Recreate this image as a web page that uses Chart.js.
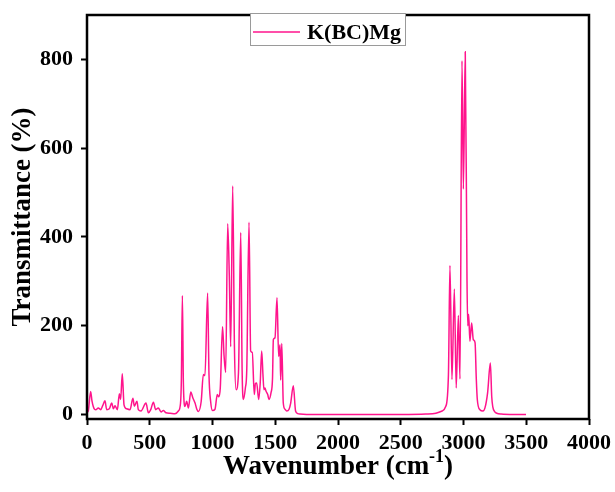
<!DOCTYPE html>
<html>
<head>
<meta charset="utf-8">
<script src="https://cdn.jsdelivr.net/npm/chart.js@4.4.1/dist/chart.umd.min.js"></script>
<style>
  html, body { margin: 0; padding: 0; background: #fff; }
  #wrap { width: 615px; height: 492px; position: relative; }
</style>
</head>
<body>
<div id="wrap"><canvas id="ftir"></canvas></div>
<script>
// FTIR spectrum of K(BC)Mg
const seriesLabel = 'K(BC)Mg';
const wavenumber = [
  0, 10, 29, 40, 50, 60, 72, 90, 109, 125, 143, 157, 178, 197, 210, 223, 242,
  258, 268, 281, 295, 316, 343, 366, 377, 398, 409, 430, 470, 489, 508, 529,
  547, 568, 590, 608, 630, 662, 701, 728, 745, 752, 760, 768, 781, 794, 808,
  827, 843, 861, 875, 888, 910, 927, 940, 961, 972, 985, 1000, 1020, 1038,
  1050, 1062, 1080, 1092, 1105, 1121, 1134, 1145, 1161, 1175, 1188, 1207,
  1225, 1236, 1246, 1262, 1273, 1291, 1304, 1317, 1333, 1342, 1352, 1368,
  1380, 1392, 1402, 1410, 1418, 1426, 1440, 1450, 1466, 1478, 1485, 1498,
  1514, 1527, 1538, 1543, 1552, 1564, 1578, 1591, 1610, 1623, 1644, 1662,
  1680, 1697, 1750, 2000, 2500, 2700, 2780, 2830, 2858, 2880, 2892, 2908,
  2927, 2942, 2959, 2972, 2988, 2999, 3014, 3028, 3034, 3041, 3051, 3065,
  3078, 3092, 3102, 3110, 3131, 3155, 3171, 3192, 3214, 3225, 3233, 3250,
  3265, 3300, 3400, 3498
];
const transmittance = [
  5, 8, 52, 30, 18, 12, 11, 15, 11, 20, 31, 11, 13, 26, 13, 20, 11,
  47, 34, 92, 22, 13, 11, 37, 19, 30, 11, 8, 26, 4, 11, 28,
  11, 15, 6, 9, 4, 3, 2, 8, 25, 80, 268, 70, 18, 30, 15,
  51, 38, 26, 12, 7, 30, 90, 88, 274, 90, 30, 9, 12, 45,
  40, 60, 198, 133, 95, 430, 312, 153, 515, 150, 56, 94,
  410, 100, 34, 60, 101, 433, 143, 140, 45, 70, 71, 34,
  70, 143, 90, 56, 60, 53, 45, 34, 49, 80, 169, 173,
  263, 131, 157, 78, 160, 26, 12, 8, 12, 26, 65, 8,
  2, 1, 0, 0, 0, 1, 3, 8, 18, 90, 336, 79,
  283, 60, 223, 80, 797, 508, 817, 300, 200, 226, 165, 206,
  169, 162, 80, 34, 11, 8, 15, 49, 116, 40, 18, 6,
  3, 1, 0, 0
];
const xTicks = [0, 500, 1000, 1500, 2000, 2500, 3000, 3500, 4000];
const yTicks = [0, 200, 400, 600, 800];

const lineColor = '#ff148c';
const serif = '"Liberation Serif", "Times New Roman", serif';

// frame, axis titles and legend box drawn on top
const frameAndLabels = {
  id: 'frameAndLabels',
  afterDraw(chart) {
    const { ctx, chartArea: a } = chart;
    ctx.save();

    ctx.strokeStyle = '#000';
    ctx.lineWidth = 2.5;
    ctx.strokeRect(a.left, a.top, a.right - a.left, a.bottom - a.top);

    // y title
    ctx.fillStyle = '#000';
    ctx.font = 'bold 27px ' + serif;
    ctx.textAlign = 'center';
    ctx.textBaseline = 'middle';
    ctx.save();
    ctx.translate(23, (a.top + a.bottom) / 2);
    ctx.rotate(-Math.PI / 2);
    ctx.fillText('Transmittance (%)', 0, 0);
    ctx.restore();

    // x title with superscript
    const main = 'Wavenumber (cm', sup = '-1', close = ')';
    ctx.textAlign = 'left';
    ctx.textBaseline = 'alphabetic';
    ctx.font = 'bold 27px ' + serif;
    const w1 = ctx.measureText(main).width;
    const w3 = ctx.measureText(close).width;
    ctx.font = 'bold 18px ' + serif;
    const w2 = ctx.measureText(sup).width;
    let x = (a.left + a.right) / 2 - (w1 + w2 + w3) / 2;
    const base = 474;
    ctx.font = 'bold 27px ' + serif;
    ctx.fillText(main, x, base);
    x += w1;
    ctx.font = 'bold 18px ' + serif;
    ctx.fillText(sup, x, base - 12);
    x += w2;
    ctx.font = 'bold 27px ' + serif;
    ctx.fillText(close, x, base);

    // legend
    const lx = 250, ly = 13, lw = 156, lh = 33;
    ctx.fillStyle = '#fff';
    ctx.fillRect(lx, ly, lw, lh);
    ctx.strokeStyle = '#9a9a9a';
    ctx.lineWidth = 1;
    ctx.strokeRect(lx + 0.5, ly + 0.5, lw - 1, lh - 1);
    ctx.strokeStyle = lineColor;
    ctx.lineWidth = 1.5;
    ctx.beginPath();
    ctx.moveTo(lx + 3, ly + 19);
    ctx.lineTo(lx + 50, ly + 19);
    ctx.stroke();
    ctx.fillStyle = '#000';
    ctx.font = 'bold 22px ' + serif;
    ctx.textBaseline = 'alphabetic';
    ctx.fillText(seriesLabel, lx + 57, ly + 26);

    ctx.restore();
  }
};

const points = wavenumber.map((w, i) => ({ x: w, y: transmittance[i] }));

new Chart(document.getElementById('ftir'), {
  type: 'line',
  data: {
    datasets: [{
      label: seriesLabel,
      data: points,
      borderColor: lineColor,
      borderWidth: 1.5,
      pointRadius: 0,
      fill: false,
      cubicInterpolationMode: 'monotone'
    }]
  },
  options: {
    responsive: true,
    maintainAspectRatio: false,
    animation: false,
    layout: { padding: { top: 15, right: 26, left: 0, bottom: 0 } },
    plugins: { legend: { display: false }, tooltip: { enabled: false } },
    scales: {
      x: {
        type: 'linear',
        min: 0,
        max: 4000,
        afterBuildTicks: s => { s.ticks = xTicks.map(v => ({ value: v })); },
        afterFit: s => { s.height = 73; s.paddingLeft = 0; s.paddingRight = 0; },
        border: { display: false },
        grid: { drawOnChartArea: false, drawTicks: true, tickLength: 6, tickWidth: 2, tickColor: '#000' },
        ticks: {
          color: '#000', padding: 5, maxRotation: 0,
          font: { family: serif, size: 22, weight: 'bold' },
          callback: v => String(v)
        }
      },
      y: {
        min: -10,
        max: 900,
        afterBuildTicks: s => { s.ticks = yTicks.map(v => ({ value: v })); },
        afterFit: s => { s.width = 87; s.paddingTop = 0; s.paddingBottom = 0; },
        border: { display: false },
        grid: { drawOnChartArea: false, drawTicks: true, tickLength: 6, tickWidth: 2, tickColor: '#000' },
        ticks: {
          color: '#000', padding: 8,
          font: { family: serif, size: 22, weight: 'bold' },
          callback: v => String(v)
        }
      }
    }
  },
  plugins: [frameAndLabels]
});
</script>
</body>
</html>
